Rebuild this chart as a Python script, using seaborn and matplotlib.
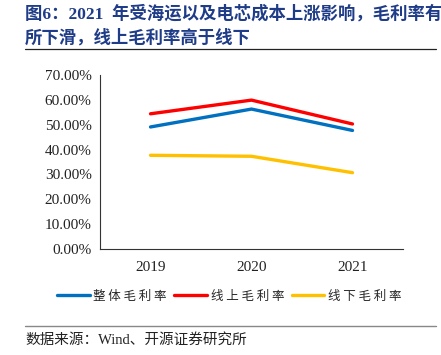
import seaborn as sns
import pandas as pd
import matplotlib.pyplot as plt
from matplotlib.ticker import FixedLocator, FuncFormatter

years = ["2019", "2020", "2021"]
overall = [49.1, 56.3, 47.7]
online = [54.4, 59.9, 50.3]
offline = [37.7, 37.3, 30.7]
series_names = ["整体毛利率", "线上毛利率", "线下毛利率"]
colors = ["#0070C0", "#FF0000", "#FFC000"]

df = pd.DataFrame({
    "year": years * 3,
    "value": overall + online + offline,
    "series": [s for s in series_names for _ in years],
})

sns.set_style("white")
plt.rcParams["font.family"] = ["Liberation Serif", "Noto Sans CJK SC"]

fig = plt.figure(figsize=(4.41, 3.55), dpi=100)
ax = fig.add_axes([0.2268, 0.2986, 0.6870, 0.4901])

sns.lineplot(data=df, x="year", y="value", hue="series", hue_order=series_names,
             palette=colors, linewidth=2.4, ax=ax, legend=False, sort=False)

ax.set_xlim(-0.5, 2.5)
ax.set_ylim(0, 70)
ax.set_yticks(range(0, 71, 10))
ax.yaxis.set_major_formatter(FuncFormatter(lambda v, p: f"{v:.2f}%"))
ax.set_xticks([-0.5, 0.5, 1.5, 2.5])
ax.set_xticklabels([])
ax.xaxis.set_minor_locator(FixedLocator([0, 1, 2]))
ax.set_xticklabels(years, minor=True)
ax.tick_params(axis="x", which="major", direction="in", length=4, width=0.8, color="#333333")
ax.tick_params(axis="x", which="minor", length=0, labelsize=11, pad=9, colors="#222222")
ax.tick_params(axis="y", direction="out", length=4, width=0.8, color="#333333", labelsize=11, pad=2)
ax.tick_params(axis="y", colors="#222222")
ax.set_xlabel("")
ax.set_ylabel("")
for s in ["top", "right"]:
    ax.spines[s].set_visible(False)
for s in ["left", "bottom"]:
    ax.spines[s].set_color("#333333")
    ax.spines[s].set_linewidth(0.8)

title_color = "#1F3C88"
fig.text(25 / 441, 1 - 14 / 355, "图6：2021  年受海运以及电芯成本上涨影响，毛利率有", fontsize=12.5,
         fontweight="bold", color=title_color, va="center", ha="left")
fig.text(25 / 441, 1 - 38 / 355, "所下滑，线上毛利率高于线下", fontsize=12.5,
         fontweight="bold", color=title_color, va="center", ha="left")
fig.add_artist(plt.Line2D([25 / 441, 436 / 441], [1 - 49 / 355] * 2, color="#222222", lw=0.9))

# legend
handles = [plt.Line2D([], [], color=c, lw=2.4) for c in colors]
spaced = [" ".join(n) for n in series_names]
fig.legend(handles, spaced, loc="center", bbox_to_anchor=(0.52, 1 - 296 / 355),
           ncol=3, frameon=False, handlelength=2.6, columnspacing=0.6,
           handletextpad=0.3, prop={"family": ["Noto Sans CJK SC"], "size": 9})

fig.add_artist(plt.Line2D([25 / 441, 436 / 441], [1 - 326 / 355] * 2, color="#888888", lw=1.0))
fig.text(25 / 441, 1 - 340 / 355, "数据来源：Wind、开源证券研究所", fontsize=10.5,
         color="#222222", va="center", ha="left")

fig.savefig("out.png", dpi=100)
